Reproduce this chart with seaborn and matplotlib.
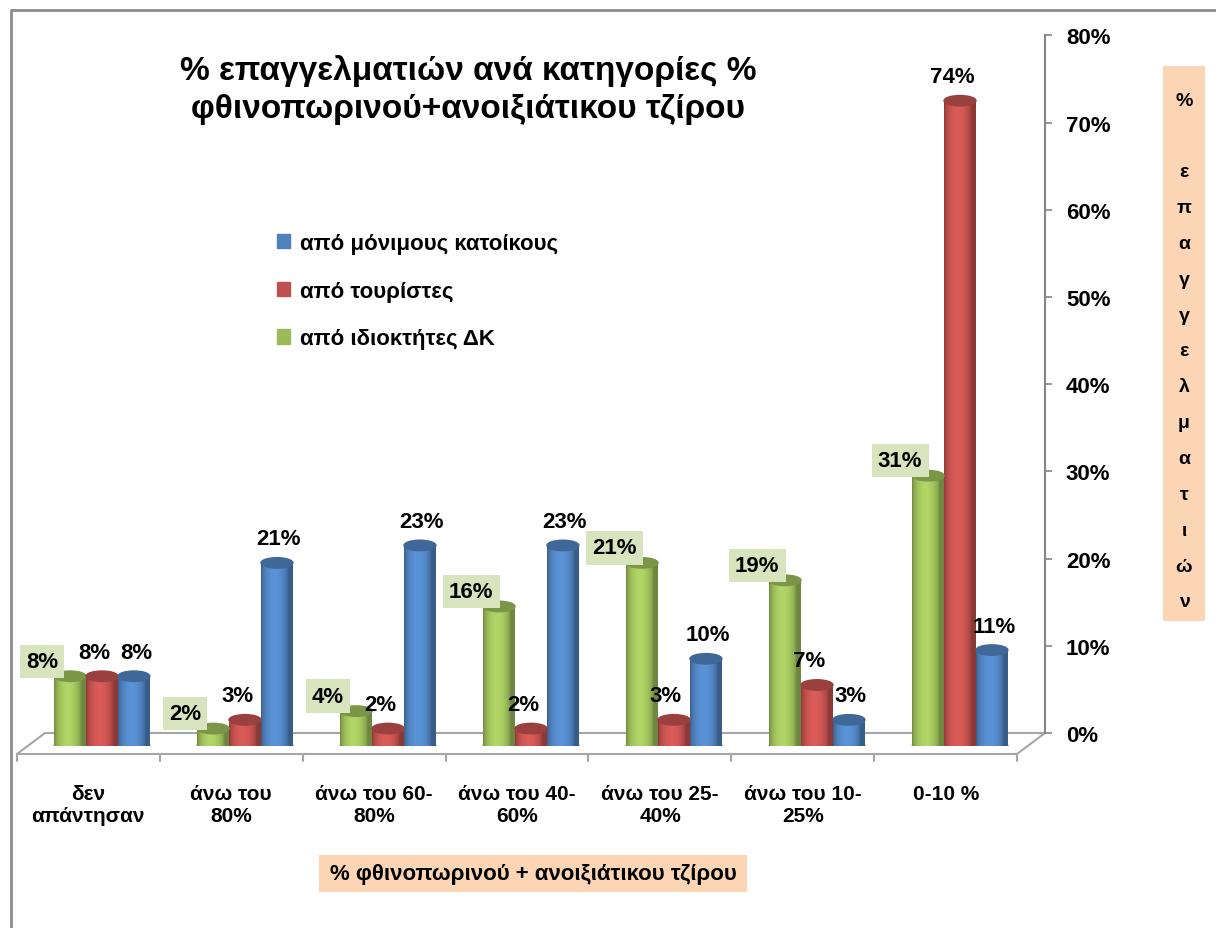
import numpy as np
import pandas as pd
import matplotlib
matplotlib.use("Agg")
import matplotlib.pyplot as plt
import matplotlib.transforms as mtransforms
from matplotlib.colors import to_rgb
from matplotlib.lines import Line2D
from matplotlib.patches import Patch, Rectangle, Ellipse
import seaborn as sns

# κατηγορίες τζίρου
categories = ["δεν\nαπάντησαν", "άνω του\n80%", "άνω του 60-\n80%", "άνω του 40-\n60%",
              "άνω του 25-\n40%", "άνω του 10-\n25%", "0-10 %"]

# % επαγγελματιών ανά σειρά
idioktites = [8, 2, 4, 16, 21, 19, 31]
touristes = [8, 3, 2, 2, 3, 7, 74]
monimoi = [8, 21, 23, 23, 10, 3, 11]

series_names = ["από ιδιοκτήτες ΔΚ", "από τουρίστες", "από μόνιμους κατοίκους"]
y_ticks = [0, 10, 20, 30, 40, 50, 60, 70, 80]

colors = {
    "από ιδιοκτήτες ΔΚ": "#9BBB59",
    "από τουρίστες": "#C0504D",
    "από μόνιμους κατοίκους": "#4F81BD",
}

rows = []
for name, vals in zip(series_names, [idioktites, touristes, monimoi]):
    for cat, v in zip(categories, vals):
        rows.append({"cat": cat, "series": name, "value": v})
df = pd.DataFrame(rows)

sns.set_style("white")
plt.rcParams["font.family"] = ["Liberation Sans", "DejaVu Sans"]
plt.rcParams["text.color"] = "black"
plt.rcParams["axes.labelcolor"] = "black"

W, H = 1216, 929
fig = plt.figure(figsize=(W / 100, H / 100), dpi=100)


def px(x, y):
    return x / W, 1 - y / H


def ax_rect(left, top, right, bottom):
    return [left / W, 1 - bottom / H, (right - left) / W, (bottom - top) / H]


def fig_line(pts, color, lw):
    xs, ys = zip(*[px(a, b) for a, b in pts])
    fig.add_artist(Line2D(xs, ys, transform=fig.transFigure, color=color, lw=lw, zorder=-1))


# πλαίσιο γραφήματος (πάνω και αριστερά)
fig_line([(11, H), (11, 11), (W, 11)], "#8C8C8C", 2)

# δάπεδο 3Δ
floor_c = "#A6A6A6"
fig_line([(17, 755), (1017, 755), (1045, 734), (45, 734), (17, 755)], floor_c, 1.5)
for k in range(8):
    x0 = 17 + k * 1000 / 7
    fig_line([(x0, 755), (x0, 762)], floor_c, 1.5)

# άξονας τιμών (δεξιά)
scale = 697.6 / 80
axy = fig.add_axes(ax_rect(45, 734 - 80 * scale, 1045, 734))
axy.set_ylim(0, 80)
axy.set_xticks([])
axy.set_yticks(y_ticks)
axy.set_yticklabels([f"{t}%" for t in y_ticks], fontweight="bold")
axy.yaxis.tick_right()
for s in ["left", "top", "bottom"]:
    axy.spines[s].set_visible(False)
axy.spines["right"].set_color("#868686")
axy.spines["right"].set_linewidth(1.5)
axy.tick_params(axis="y", direction="out", length=5, width=1.2, color="#868686",
                labelsize=16, pad=10, labelcolor="black")
axy.patch.set_alpha(0)

# ράβδοι
ax = fig.add_axes(ax_rect(30.5, 747 - 80 * scale, 1031.5, 747))
sns.barplot(data=df, x="cat", y="value", hue="series", order=categories,
            hue_order=series_names, palette=colors, width=0.67, saturation=1,
            edgecolor="none", legend=False, ax=ax)

# σκίαση κυλίνδρων
t = np.linspace(0, 1, 64)
shade = 0.72 + 0.42 * np.sin(np.pi * np.clip(t * 1.15, 0, 1)) ** 0.6
for bar in list(ax.patches):
    x0, w, h = bar.get_x(), bar.get_width(), bar.get_height()
    if h <= 0:
        continue
    base = np.array(to_rgb(bar.get_facecolor()))
    img = np.clip(base[None, None, :] * shade[None, :, None], 0, 1)
    ax.imshow(img, extent=[x0, x0 + w, 0, h], aspect="auto", zorder=2.1,
              interpolation="bilinear")
    ax.add_patch(Ellipse((x0 + w / 2, 0), w, 1.2, color=base * 0.85, zorder=2.05))
    ax.add_patch(Ellipse((x0 + w / 2, h), w, 1.2, color=base * 0.8, zorder=2.2))

ax.set_ylim(0, 80)
ax.set_xlim(-0.5, 6.5)
ax.set_xlabel("")
ax.set_ylabel("")
ax.set_yticks([])
for s in ax.spines.values():
    s.set_visible(False)
ax.patch.set_alpha(0)
ax.tick_params(axis="x", length=0, pad=27, labelsize=15)
shift = mtransforms.ScaledTranslation(-14 / 100, 0, fig.dpi_scale_trans)
for lab in ax.get_xticklabels():
    lab.set_transform(lab.get_transform() + shift)
    lab.set_linespacing(1.2)
    lab.set_fontweight("bold")
    lab.set_color("black")

# ετικέτες τιμών
offsets = {
    "από ιδιοκτήτες ΔΚ": (-28, 15),
    "από τουρίστες": (-8, 24),
    "από μόνιμους κατοίκους": (2, 24),
}
for cont, name in zip(ax.containers, series_names):
    dx, dy = offsets[name]
    for bar, v in zip(cont, df[df["series"] == name]["value"]):
        xc = bar.get_x() + bar.get_width() / 2
        kw = {}
        if name == "από ιδιοκτήτες ΔΚ":
            kw["bbox"] = dict(boxstyle="square,pad=0.28", fc="#D7E4BD", ec="none")
        ax.annotate(f"{v}%", (xc, v), xytext=(dx * 0.72, dy * 0.72), textcoords="offset points",
                    ha="center", va="center", fontsize=16, fontweight="bold", zorder=5, **kw)

# υπόμνημα
handles = [Patch(color=colors[n]) for n in series_names[::-1]]
fig.legend(handles, series_names[::-1], loc="upper left", bbox_to_anchor=px(277, 234),
           frameon=False, prop={"weight": "bold", "size": 16}, handlelength=0.6,
           handleheight=0.6, handletextpad=0.45, labelspacing=1.2, borderpad=0,
           borderaxespad=0)

# τίτλος
fig.text(*px(468, 90), "% επαγγελματιών ανά κατηγορίες %\nφθινοπωρινού+ανοιξιάτικου τζίρου",
         ha="center", va="center", fontsize=24, fontweight="bold", linespacing=1.26)

# τίτλος άξονα x
fig.add_artist(Rectangle(px(319, 893), 428 / W, 37 / H, transform=fig.transFigure,
                         fc="#FCD5B5", ec="none", zorder=-1))
fig.text(*px(533, 875), "% φθινοπωρινού + ανοιξιάτικου τζίρου", ha="center", va="center",
         fontsize=16, fontweight="bold")

# τίτλος άξονα y (κάθετα γράμματα)
fig.add_artist(Rectangle(px(1163, 622), 42 / W, 555 / H, transform=fig.transFigure,
                         fc="#FCD5B5", ec="none", zorder=-1))
ylab = "\n".join(list("%") + [" "] + list("επαγγελματιών"))
fig.text(*px(1184, 352), ylab, ha="center", va="center", fontsize=14, fontweight="bold",
         linespacing=2.45)

fig.savefig("out.png", dpi=100)
